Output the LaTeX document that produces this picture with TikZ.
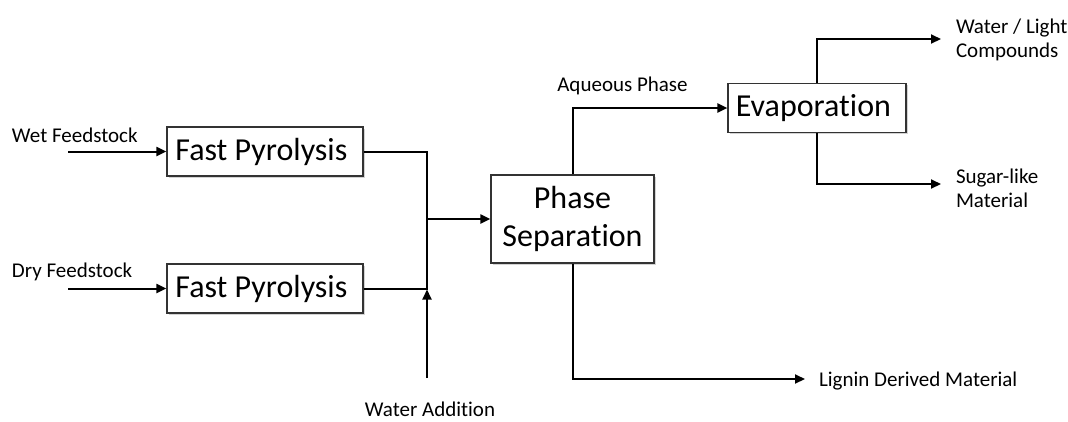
\documentclass[tikz,border=0pt]{standalone}
\usepackage{fontspec}
\setmainfont{Carlito}[Ligatures={NoCommon}]
\usetikzlibrary{arrows.meta, shadows, positioning}
\tikzset{
    module/.style={
           rectangle,
           draw=black!80, line width=1.2pt,
           fill=white,
           drop shadow={shadow xshift=1.5pt, shadow yshift=-1.5pt, opacity=0.35},
           inner sep=2pt,
           align=center,
           font=\fontsize{32}{38}\selectfont,
           },
    stream/.style={
           inner sep=0pt,
           font=\fontsize{21}{24}\selectfont,
           },
}

\begin{document}
\begin{tikzpicture}[x=1pt, y=-1pt, line width=2pt,
                    ->, >={Triangle[length=10pt,width=9pt]}]

 \useasboundingbox (0,0) rectangle (1068,421);

 \node[module,
  minimum width=196pt,
  minimum height=49pt] (FP_WET) at (265,151.5)
 {%
  Fast Pyrolysis
 };

 \node[module,
  minimum width=196pt,
  minimum height=49pt] (FP_DRY) at (265,288.5)
 {%
  Fast Pyrolysis
 };

 \node[module,
  minimum width=163pt,
  minimum height=88pt] (SEPARATION) at (572.5,219)
 {%
  Phase\\Separation
 };

 \node[module,
  minimum width=178pt,
  minimum height=49pt] (EVAPORATION) at (817,108)
 {%
  Evaporation
 };

 % stream labels
 \node[stream, anchor=base west] (WET_FEED) at (11,142) {Wet Feedstock};
 \node[stream, anchor=base west] (DRY_FEED) at (11,277) {Dry Feedstock};
 \node[stream, anchor=base] (WATER_ADD) at (430,416) {Water Addition};
 \node[stream, anchor=base] (AQUEOUS) at (622.5,91) {Aqueous Phase};
 \node[stream, anchor=west, align=left] (LIGHT) at (955,40)
 {%
  Water / Light\\Compounds
 };
 \node[stream, anchor=west, align=left] (SUGAR) at (955,188)
 {%
  Sugar-like\\Material
 };
 \node[stream, anchor=base west] (LIGNIN) at (818,386) {Lignin Derived Material};

 % free ends
 \coordinate (WET_IN) at (68,151.5);
 \coordinate (DRY_IN) at (68,288.5);
 \coordinate (MERGE) at (427,219);
 \coordinate (WATER_IN) at (427,378);
 \coordinate (WATER_JOIN) at (427,289.5);
 \coordinate (LIGHT_OUT) at (941,39);
 \coordinate (SUGAR_OUT) at (941,184);
 \coordinate (LIGNIN_OUT) at (805,379);

 \path (WET_IN) edge (FP_WET);
 \path (DRY_IN) edge (FP_DRY);

 \draw[-] (FP_WET.east) -| (MERGE);
 \draw[-] (FP_DRY.east) -| (MERGE);
 \path (MERGE) edge (SEPARATION);
 \path (WATER_IN) edge (WATER_JOIN);

 \draw (SEPARATION.north) |- (EVAPORATION.west);
 \draw (SEPARATION.south) |- (LIGNIN_OUT);

 \draw (EVAPORATION.north) |- (LIGHT_OUT);
 \draw (EVAPORATION.south) |- (SUGAR_OUT);

\end{tikzpicture}
\end{document}
